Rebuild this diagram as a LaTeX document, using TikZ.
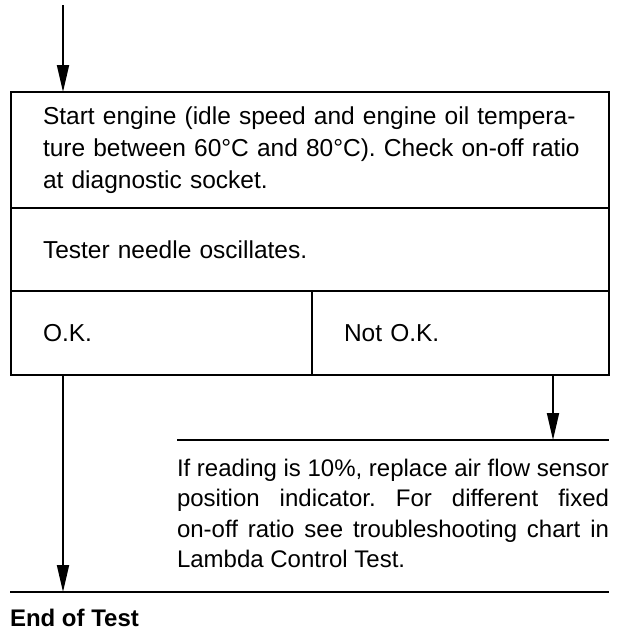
\documentclass[tikz,border=0pt]{standalone}
\usepackage{fontspec}
\setmainfont{Liberation Sans}
\frenchspacing
\usetikzlibrary{arrows.meta}
\begin{document}
\begin{tikzpicture}[x=1pt,y=-1pt,line width=1.8pt,every node/.style={font=\fontsize{24}{30.5}\selectfont,outer sep=0pt},
  cell/.style={draw,anchor=north west,inner xsep=32pt,inner ysep=0pt,align=left,font=\fontsize{24.5}{32}\selectfont},
  flow/.style={-{Triangle[width=12pt,length=27pt]}}]
\useasboundingbox (0,0) rectangle (624,632);
\coordinate (T) at (63,5);
\coordinate (R) at (553,0);
\coordinate (A) at (177,440);
\coordinate (B) at (609,440);
\coordinate (E) at (10,592);
\coordinate (F) at (609,592);
\node[cell,text width=534pt,minimum height=116pt] (check) at (11,92) {\mbox{Start engine (idle speed and engine oil tempera-}\\\mbox{ture between 60°C and 80°C). Check on-off ratio}\\\mbox{at diagnostic socket.}};
\node[cell,text width=534pt,minimum height=83pt] (needle) at (check.south west) {Tester needle oscillates.};
\node[cell,text width=237pt,minimum height=84pt] (ok) at (needle.south west) {O.K.};
\node[cell,text width=233pt,minimum height=84pt] (notok) at (ok.north east) {Not O.K.};
\draw[flow] (T) -- (T |- check.north);
\draw[flow] (ok.south -| T) -- (E -| T);
\draw[flow] (notok.south -| R) -- (A -| R);
\draw (A) -- (B);
\draw (E) -- (F);
\node[anchor=north west,inner sep=0pt,text width=432pt,align=justify] (advice) at (177,459) {If reading is 10\%, replace air flow sensor\linebreak position indicator. For different fixed\linebreak on-off ratio see troubleshooting chart in\linebreak Lambda Control Test.};
\node[anchor=base west,inner sep=0pt,font=\fontsize{24}{30}\selectfont\bfseries] (endtest) at (10,626) {End of Test};
\end{tikzpicture}
\end{document}
